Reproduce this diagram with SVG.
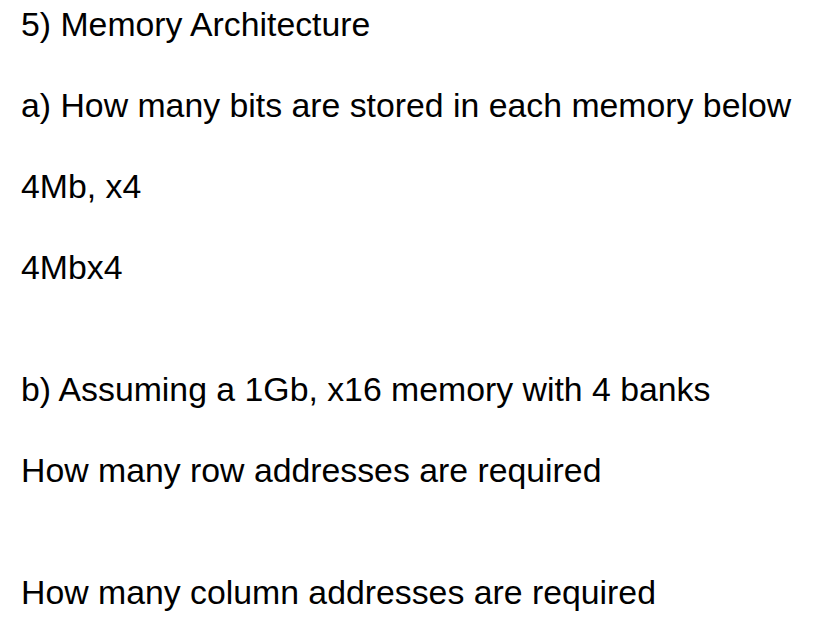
<svg xmlns="http://www.w3.org/2000/svg" width="814" height="625" viewBox="0 0 814 625">
<style>text{font-family:"Liberation Sans",Arial,sans-serif;font-size:33.8px;fill:#000}</style>
<rect width="814" height="625" fill="#fff"/>
<text x="21" y="36">5) Memory Architecture</text>
<text x="21" y="117">a) How many bits are stored in each memory below</text>
<text x="21" y="198">4Mb, x4</text>
<text x="21" y="279">4Mbx4</text>
<text x="21" y="401">b) Assuming a 1Gb, x16 memory with 4 banks</text>
<text x="21" y="482">How many row addresses are required</text>
<text x="21" y="604">How many column addresses are required</text>
</svg>
